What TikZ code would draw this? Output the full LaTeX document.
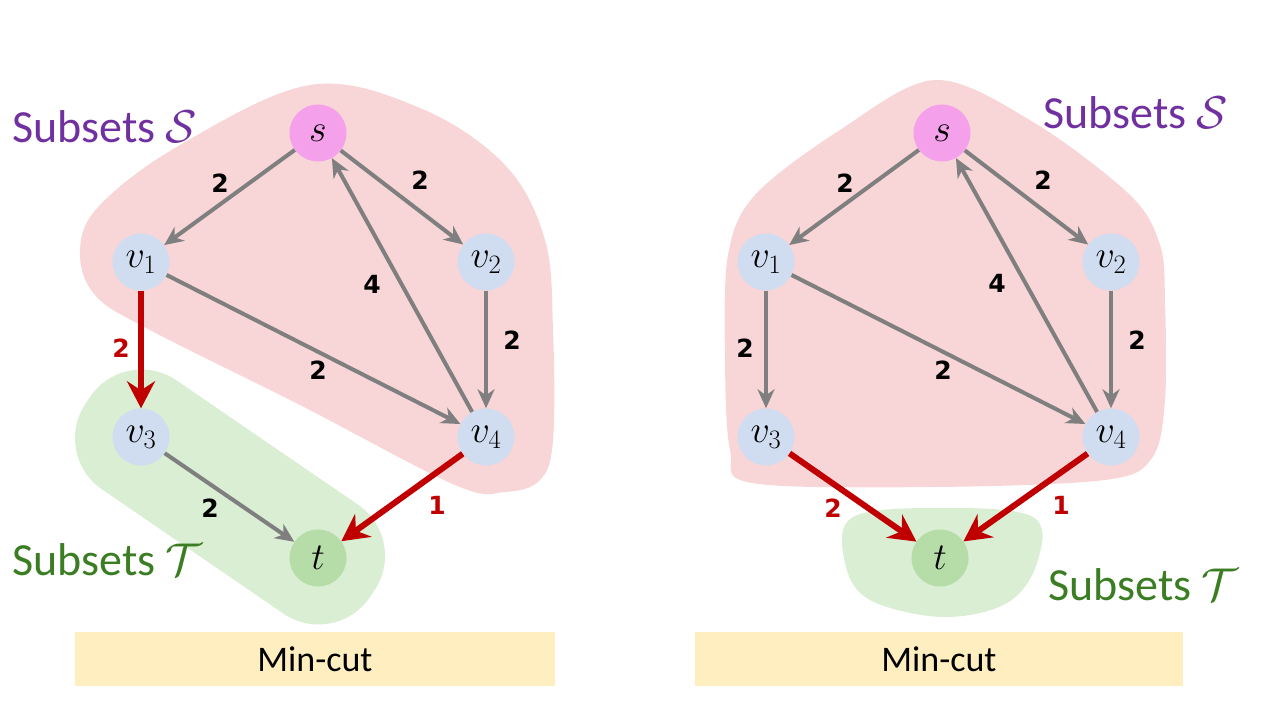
\RequirePackage{fix-cm}
\documentclass[tikz,border=0pt]{standalone}
\usepackage{fontspec}
\setmainfont{Carlito}
\newfontfamily\lblfont{DejaVu Sans}
\usetikzlibrary{arrows.meta}
\definecolor{pinkbg}{HTML}{F8D5D7}
\definecolor{greenbg}{HTML}{D9EED3}
\definecolor{snode}{HTML}{F4A0EA}
\definecolor{vnode}{HTML}{D0DCF0}
\definecolor{tnode}{HTML}{B6DDA8}
\definecolor{edgegray}{HTML}{7F7F7F}
\definecolor{cutred}{HTML}{C00000}
\definecolor{boxyellow}{HTML}{FFEFC0}
\definecolor{subS}{HTML}{7030A0}
\definecolor{subT}{HTML}{3B7D23}
\tikzset{
  vert/.style={circle, minimum size=57pt, inner sep=0pt, font=\fontsize{38}{38}\selectfont},
  vnd/.style={vert, fill=vnode},
  snd/.style={vert, fill=snode},
  tnd/.style={vert, fill=tnode},
  ge/.style={draw=edgegray, line width=4pt, -{Stealth[length=19pt,width=17pt,inset=6pt]}},
  re/.style={draw=cutred, line width=6pt, -{Stealth[length=27pt,width=28pt,inset=9pt]}},
  lbl/.style={font=\lblfont\bfseries\fontsize{25}{25}\selectfont, inner sep=0pt},
  rlbl/.style={lbl, text=cutred},
  subs/.style={font=\fontsize{46}{46}\selectfont, text=subS, anchor=west, inner sep=0pt},
  subt/.style={font=\fontsize{46}{46}\selectfont, text=subT, anchor=west, inner sep=0pt},
  cutbox/.style={fill=boxyellow, minimum height=54pt, inner sep=0pt, font=\fontsize{36}{36}\selectfont}
}
\begin{document}
\begin{tikzpicture}[x=1pt,y=-1pt]
\useasboundingbox (0,0) rectangle (1281,714);
% ---------- left: blobs ----------
\fill[pinkbg] plot[smooth cycle, tension=0.6] coordinates {(310,85) (420,108) (505,165) (545,240) (553,330) (553,440) (540,480) (505,492) (455,485) (300,405) (150,330) (95,295) (80,250) (100,205) (180,145)};
\begin{scope}[shift={(230,497)}, rotate=-34.4]
\fill[greenbg, rounded corners=62pt] (-172,-66) rectangle (172,66);
\end{scope}
% ---------- right: blobs ----------
\fill[pinkbg] plot[smooth cycle, tension=0.55] coordinates {(935,80) (1033,122) (1130,195) (1160,245) (1165,300) (1165,400) (1152,458) (1105,480) (933,487) (752,483) (730,450) (725,360) (728,255) (755,195) (840,130)};
\fill[greenbg] plot[smooth cycle, tension=0.6] coordinates {(853,517) (943,508) (1033,517) (1037,563) (1007,603) (943,617) (870,600) (845,563)};
% ---------- boxes ----------
\node[cutbox, minimum width=480pt] (cutL) at (315,659) {Min-cut};
\node[cutbox, minimum width=488pt] (cutR) at (939,659) {Min-cut};
% ---------- subset texts ----------
\node[subs] (sSL) at (12,127) {Subsets $\mathcal{S}$};
\node[subs] (sSR) at (1043,113) {Subsets $\mathcal{S}$};
\node[subt] (sTL) at (12,560) {Subsets $\mathcal{T}$};
\node[subt] (sTR) at (1048,585) {Subsets $\mathcal{T}$};
% ---------- left graph ----------
\node[snd] (s)  at (318,133) {$s$};
\node[vnd] (v1) at (141,262) {$v_1$};
\node[vnd] (v2) at (486,262) {$v_2$};
\node[vnd] (v3) at (141,437) {$v_3$};
\node[vnd] (v4) at (486,437) {$v_4$};
\node[tnd] (t)  at (318,558) {$t$};
\draw[ge] (s) -- (v1);
\draw[ge] (s) -- (v2);
\draw[ge] (v4) -- (s);
\draw[ge] (v1) -- (v4);
\draw[ge] (v2) -- (v4);
\draw[re] (v1) -- (v3);
\draw[ge] (v3) -- (t);
\draw[re] (v4) -- (t);
\node[lbl] (la) at (220,183) {2};
\node[lbl] (lb) at (420,180) {2};
\node[lbl] (lc) at (372,284) {4};
\node[lbl] (ld) at (318,370) {2};
\node[lbl] (le) at (512,340) {2};
\node[rlbl] (lf) at (121,348) {2};
\node[lbl] (lg) at (210,508) {2};
\node[rlbl] (lh) at (437,505) {1};
% ---------- right graph ----------
\node[snd] (S)  at (942,133) {$s$};
\node[vnd] (V1) at (766,262) {$v_1$};
\node[vnd] (V2) at (1111,262) {$v_2$};
\node[vnd] (V3) at (766,437) {$v_3$};
\node[vnd] (V4) at (1111,437) {$v_4$};
\node[tnd] (T)  at (940,558) {$t$};
\draw[ge] (S) -- (V1);
\draw[ge] (S) -- (V2);
\draw[ge] (V4) -- (S);
\draw[ge] (V1) -- (V4);
\draw[ge] (V2) -- (V4);
\draw[ge] (V1) -- (V3);
\draw[re] (V3) -- (T);
\draw[re] (V4) -- (T);
\node[lbl] (Ra) at (845,183) {2};
\node[lbl] (Rb) at (1043,180) {2};
\node[lbl] (Rc) at (997,283) {4};
\node[lbl] (Rd) at (943,370) {2};
\node[lbl] (Re) at (1137,340) {2};
\node[lbl] (Rf) at (745,348) {2};
\node[rlbl] (Rg) at (833,508) {2};
\node[rlbl] (Rh) at (1061,505) {1};
\end{tikzpicture}
\end{document}
